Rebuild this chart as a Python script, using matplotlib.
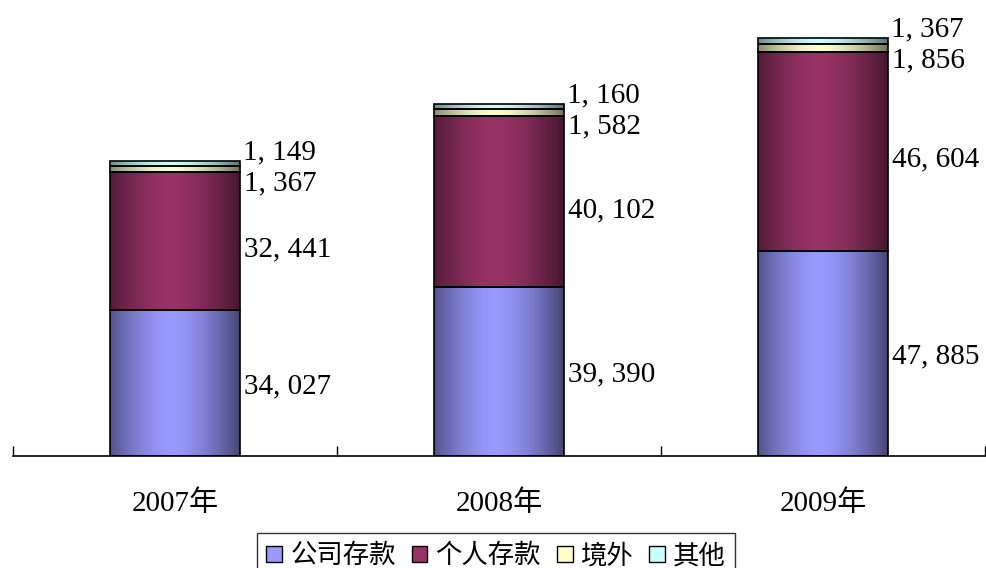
import numpy as np
import matplotlib
matplotlib.use("Agg")
import matplotlib.pyplot as plt
from matplotlib.colors import to_rgb
from matplotlib.patches import Rectangle

categories = ["2007年", "2008年", "2009年"]
series_names = ["公司存款", "个人存款", "境外", "其他"]
corporate = [34027, 39390, 47885]
personal = [32441, 40102, 46604]
overseas = [1367, 1582, 1856]
other = [1149, 1160, 1367]
colors = ["#9999FF", "#993366", "#FFFFCC", "#CCFFFF"]

plt.rcParams['font.family'] = ['Liberation Serif', 'Noto Sans CJK SC']

fig = plt.figure(figsize=(9.87, 5.68), dpi=100)
ax = fig.add_axes([13/987, (568-456)/568, (985-13)/987, (456-28)/568])

x = np.arange(len(categories))
width = 0.4
series = [corporate, personal, overseas, other]


def shade_profile(n=200):
    t = np.linspace(0, 1, n)
    d = np.abs(t - 0.47) / 0.53
    return 1.0 - 0.55 * d ** 1.6


prof = shade_profile()


def gradient_img(color):
    c = np.array(to_rgb(color))
    img = np.clip(prof[:, None] * c[None, :], 0, 1)
    return img[None, :, :]


bottom = np.zeros(len(categories))
for vals, col in zip(series, colors):
    bars = ax.bar(x, vals, width, bottom=bottom, facecolor="none",
                  edgecolor="black", linewidth=1.2, zorder=3)
    for r in bars:
        x0, y0 = r.get_x(), r.get_y()
        w, h = r.get_width(), r.get_height()
        im = ax.imshow(gradient_img(col), extent=[x0, x0 + w, y0, y0 + h],
                       aspect="auto", interpolation="bilinear", zorder=2)
        im.set_clip_path(r)
    bottom = bottom + np.array(vals)


def fmt(v):
    return "{:,}".format(v).replace(",", ", ")


lab_kw = dict(fontsize=21, family=['Liberation Serif'], va="center", ha="left")
for i in range(len(categories)):
    xr = x[i] + width / 2
    c0 = corporate[i]
    p0 = personal[i]
    ax.annotate(fmt(c0), (xr, c0 / 2), xytext=(3, -2), textcoords="offset points", **lab_kw)
    ax.annotate(fmt(p0), (xr, c0 + p0 / 2), xytext=(3, -6), textcoords="offset points", **lab_kw)
    top = c0 + p0 + overseas[i] + other[i]
    ax.annotate(fmt(overseas[i]), (xr, top), xytext=(3, -16), textcoords="offset points", **lab_kw)
    ax.annotate(fmt(other[i]), (xr, top), xytext=(2, 6), textcoords="offset points", **lab_kw)

ax.set_xlim(-0.5, 2.5)
ax.set_ylim(0, 100000)
for s in ["left", "right", "top"]:
    ax.spines[s].set_visible(False)
ax.spines["bottom"].set_linewidth(1.2)
ax.set_yticks([])
ax.set_xticks(x)
ax.set_xticklabels(categories, fontsize=21)
ax.tick_params(axis="x", which="major", length=0, pad=25)
ax.set_xticks([-0.5, 0.5, 1.5, 2.5], minor=True)
ax.tick_params(axis="x", which="minor", direction="in", length=7.5, width=1)

# legend
handles = []
for col in colors:
    handles.append(Rectangle((0, 0), 1, 1, facecolor=col, edgecolor="black", linewidth=1))
leg = fig.legend(handles, series_names, loc="upper center", bbox_to_anchor=(496/987, 1 - 533/568),
                 ncol=4, frameon=True, fancybox=False, edgecolor="black",
                 prop={'family': ['Noto Sans CJK SC'], 'size': 19},
                 handlelength=0.6, handleheight=0.6, handletextpad=0.3, columnspacing=0.6,
                 borderpad=0.35, borderaxespad=0)
leg.get_frame().set_linewidth(1)

fig.savefig("out.png", dpi=100)
